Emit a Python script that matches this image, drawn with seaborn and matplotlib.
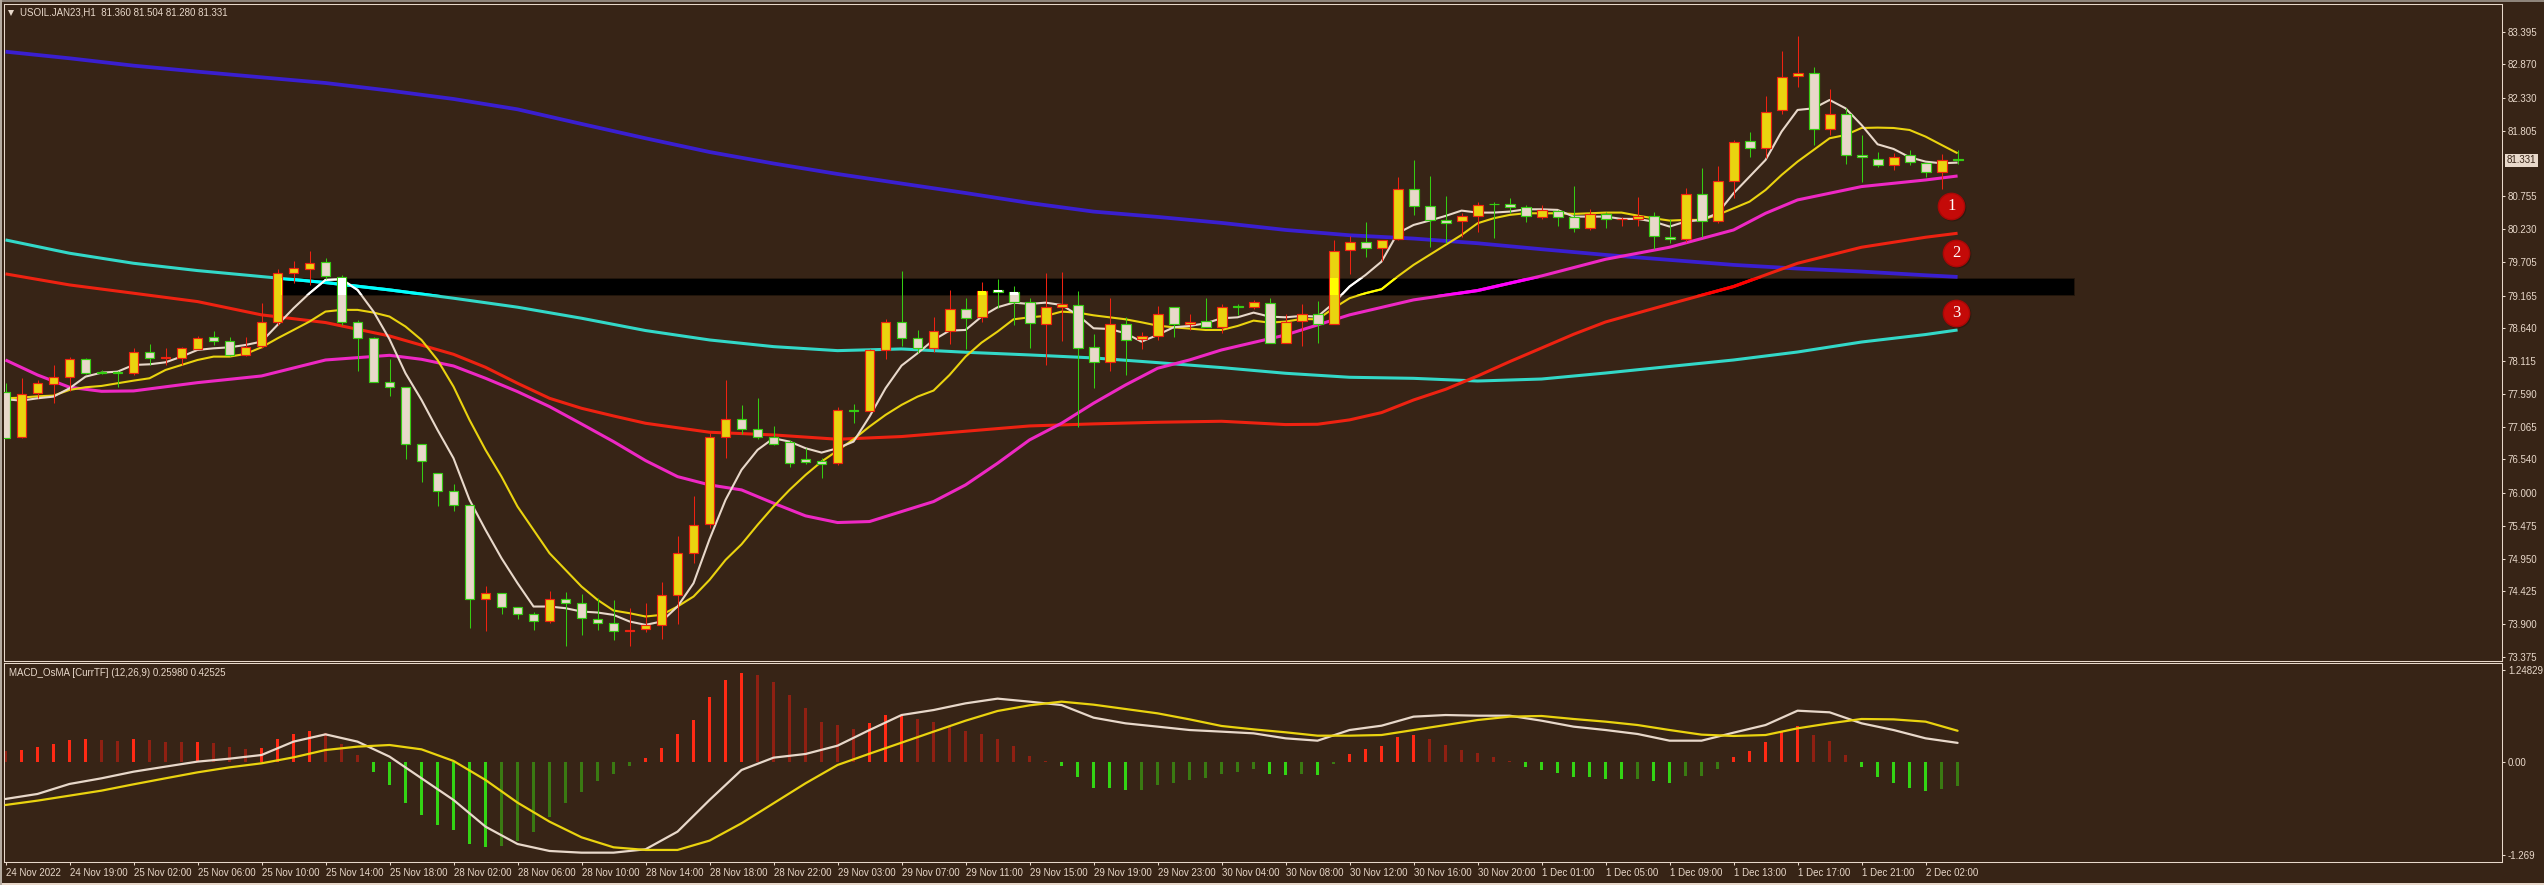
#!/usr/bin/env python3

import matplotlib
matplotlib.use('Agg')
import matplotlib.pyplot as plt
from matplotlib.patches import Rectangle
import numpy as np
import seaborn as sns

# candles
open_ = [77.627, 76.896, 77.600, 77.745, 77.857, 78.145, 77.947, 77.947, 77.921, 78.257,
         78.166, 78.172, 78.316, 78.498, 78.444, 78.220, 78.359, 78.750, 79.535, 79.599,
         79.711, 79.471, 78.750, 78.481, 77.787, 77.697, 76.783, 76.329, 76.030, 75.806,
         74.300, 74.407, 74.172, 74.060, 73.948, 74.311, 74.247, 73.991, 73.926, 73.788,
         73.820, 73.894, 74.375, 75.048, 75.508, 76.896, 77.195, 77.035, 76.907, 76.816,
         76.554, 76.511, 76.479, 77.339, 77.312, 78.290, 78.738, 78.482, 78.322, 78.594,
         78.946, 78.818, 79.251, 79.229, 79.069, 78.706, 78.989, 79.021, 78.338, 78.097,
         78.717, 78.466, 78.514, 78.989, 78.706, 78.765, 78.658, 79.000, 78.989, 79.053,
         78.412, 78.754, 78.877, 78.706, 79.893, 80.021, 79.925, 80.069, 80.870, 80.598,
         80.373, 80.357, 80.437, 80.640, 80.630, 80.592, 80.421, 80.517, 80.421, 80.245,
         80.480, 80.389, 80.389, 80.448, 80.112, 80.069, 80.800, 80.357, 81.009, 81.639,
         81.527, 82.135, 82.680, 82.739, 81.831, 82.082, 81.415, 81.361, 81.254, 81.425,
         81.297, 81.142, 81.360]
close = [76.890, 77.584, 77.761, 77.857, 78.145, 77.931, 77.926, 77.921, 78.257, 78.172,
         78.177, 78.321, 78.492, 78.444, 78.220, 78.348, 78.749, 79.535, 79.604, 79.695,
         79.487, 78.750, 78.481, 77.787, 77.697, 76.783, 76.511, 76.030, 75.806, 74.300,
         74.407, 74.172, 74.060, 73.948, 74.311, 74.247, 73.996, 73.926, 73.788, 73.814,
         73.894, 74.375, 75.048, 75.496, 76.896, 77.195, 77.035, 76.896, 76.794, 76.479,
         76.506, 76.474, 77.339, 77.312, 78.290, 78.738, 78.482, 78.322, 78.594, 78.946,
         78.802, 79.246, 79.229, 79.069, 78.722, 78.989, 79.027, 78.322, 78.097, 78.717,
         78.450, 78.514, 78.877, 78.706, 78.749, 78.658, 78.989, 78.989, 79.059, 78.412,
         78.749, 78.877, 78.706, 79.886, 80.021, 79.925, 80.064, 80.870, 80.598, 80.384,
         80.336, 80.448, 80.624, 80.630, 80.592, 80.448, 80.533, 80.421, 80.245, 80.480,
         80.389, 80.400, 80.448, 80.117, 80.069, 80.800, 80.357, 81.009, 81.633, 81.527,
         82.114, 82.675, 82.739, 81.831, 82.082, 81.415, 81.383, 81.254, 81.393, 81.302,
         81.142, 81.345, 81.331]
high = [77.761, 77.841, 77.814, 78.054, 78.177, 78.166, 77.974, 77.964, 78.327, 78.391,
        78.327, 78.348, 78.519, 78.599, 78.498, 78.498, 79.042, 79.588, 79.722, 79.882,
        79.764, 79.497, 78.777, 78.508, 78.150, 77.697, 76.783, 76.329, 76.148, 75.806,
        74.514, 74.407, 74.172, 74.092, 74.434, 74.423, 74.386, 74.316, 74.290, 74.156,
        74.236, 74.573, 75.315, 75.956, 76.960, 77.814, 77.414, 77.521, 77.077, 76.853,
        76.720, 76.559, 77.377, 77.430, 78.311, 78.792, 79.561, 78.615, 78.829, 79.256,
        79.128, 79.384, 79.432, 79.320, 79.123, 79.523, 79.545, 79.240, 78.551, 79.128,
        78.818, 78.589, 79.000, 78.989, 78.872, 79.128, 79.027, 79.032, 79.096, 79.128,
        78.872, 79.032, 79.080, 80.057, 80.122, 80.347, 80.064, 81.067, 81.340, 81.083,
        80.763, 80.485, 80.667, 80.667, 80.726, 80.619, 80.619, 80.539, 80.923, 80.549,
        80.507, 80.421, 80.747, 80.507, 80.389, 80.886, 81.206, 81.244, 81.660, 81.788,
        82.365, 83.086, 83.326, 82.830, 82.477, 82.167, 81.740, 81.463, 81.457, 81.500,
        81.297, 81.436, 81.504]
low = [76.890, 76.890, 77.520, 77.451, 77.643, 77.910, 77.910, 77.707, 77.894, 78.054,
       78.054, 78.054, 78.305, 78.375, 78.198, 78.198, 78.321, 78.696, 79.364, 79.337,
       79.428, 78.696, 77.964, 77.787, 77.563, 76.548, 76.185, 75.801, 75.715, 73.846,
       73.798, 74.065, 73.985, 73.809, 73.916, 73.558, 73.729, 73.809, 73.649, 73.558,
       73.782, 73.665, 73.905, 74.888, 75.449, 76.570, 76.944, 76.869, 76.773, 76.426,
       76.469, 76.250, 76.453, 77.131, 77.312, 78.151, 78.359, 78.242, 78.268, 78.391,
       78.311, 78.749, 78.962, 78.701, 78.327, 78.055, 78.439, 77.067, 77.692, 77.959,
       77.900, 78.311, 78.455, 78.509, 78.615, 78.658, 78.573, 78.856, 78.952, 78.412,
       78.402, 78.364, 78.412, 78.706, 79.514, 79.791, 79.722, 80.058, 80.459, 79.951,
       80.005, 80.101, 80.192, 80.096, 80.485, 80.352, 80.400, 80.288, 80.192, 80.218,
       80.256, 80.282, 80.282, 79.909, 80.005, 80.021, 80.106, 80.336, 80.726, 81.393,
       81.366, 82.077, 82.515, 81.585, 81.740, 81.281, 80.993, 81.233, 81.180, 81.260,
       81.073, 80.875, 81.280]

# moving averages
ma_fast = [77.504, 77.483, 77.520, 77.547, 77.681, 77.867, 77.931, 77.947, 78.054, 78.065,
           78.097, 78.188, 78.295, 78.321, 78.337, 78.375, 78.428, 78.696, 78.963, 79.204,
           79.417, 79.428, 79.257, 78.910, 78.467, 77.921, 77.494, 77.013, 76.559, 75.892,
           75.411, 74.957, 74.557, 74.183, 74.183, 74.156, 74.103, 74.087, 74.049, 73.943,
           73.889, 73.943, 74.183, 74.557, 75.262, 75.892, 76.373, 76.693, 76.880, 76.826,
           76.720, 76.650, 76.720, 76.826, 77.227, 77.681, 78.044, 78.242, 78.455, 78.605,
           78.615, 78.829, 78.979, 79.053, 79.032, 79.053, 79.016, 78.856, 78.642, 78.631,
           78.562, 78.428, 78.535, 78.658, 78.679, 78.722, 78.802, 78.818, 78.893, 78.829,
           78.818, 78.840, 78.829, 79.044, 79.311, 79.497, 79.711, 80.165, 80.298, 80.368,
           80.443, 80.528, 80.496, 80.496, 80.512, 80.549, 80.549, 80.539, 80.432, 80.432,
           80.432, 80.395, 80.395, 80.352, 80.272, 80.352, 80.379, 80.485, 80.806, 81.073,
           81.340, 81.794, 82.141, 82.167, 82.301, 82.167, 81.900, 81.591, 81.516, 81.383,
           81.313, 81.286, 81.297]
ma_mid = [77.520, 77.531, 77.552, 77.563, 77.654, 77.697, 77.718, 77.761, 77.803, 77.841,
          77.974, 78.054, 78.134, 78.188, 78.188, 78.231, 78.337, 78.481, 78.615, 78.750,
          78.910, 78.937, 78.937, 78.894, 78.830, 78.670, 78.455, 78.134, 77.707, 77.173,
          76.693, 76.265, 75.785, 75.411, 75.037, 74.770, 74.503, 74.290, 74.119, 74.076,
          74.023, 74.049, 74.183, 74.343, 74.610, 74.930, 75.180, 75.491, 75.785, 76.052,
          76.292, 76.506, 76.682, 76.864, 77.067, 77.254, 77.414, 77.547, 77.644, 77.894,
          78.188, 78.412, 78.589, 78.786, 78.818, 78.840, 78.909, 78.893, 78.850, 78.818,
          78.786, 78.738, 78.685, 78.658, 78.637, 78.615, 78.615, 78.679, 78.765, 78.733,
          78.749, 78.792, 78.786, 78.963, 79.124, 79.204, 79.268, 79.471, 79.658, 79.818,
          79.978, 80.138, 80.325, 80.405, 80.459, 80.485, 80.485, 80.485, 80.475, 80.485,
          80.496, 80.496, 80.448, 80.405, 80.368, 80.379, 80.379, 80.459, 80.565, 80.672,
          80.859, 81.099, 81.313, 81.500, 81.687, 81.740, 81.852, 81.858, 81.852, 81.820,
          81.714, 81.580, 81.447]

slow_bars = list(range(0, 121, 4)) + [122]
ma_blue = [83.075, 82.969, 82.851, 82.755, 82.664, 82.573, 82.451, 82.317, 82.151, 81.917,
           81.687, 81.467, 81.283, 81.115, 80.962, 80.810, 80.650, 80.512, 80.427, 80.331,
           80.218, 80.133, 80.080, 80.005, 79.909, 79.818, 79.738, 79.658, 79.599, 79.551,
           79.492, 79.465]
ma_cyan = [80.058, 79.845, 79.684, 79.567, 79.471, 79.375, 79.257, 79.124, 78.980, 78.803,
           78.606, 78.455, 78.348, 78.284, 78.311, 78.258, 78.215, 78.167, 78.092, 78.012,
           77.921, 77.857, 77.840, 77.797, 77.829, 77.925, 78.030, 78.134, 78.262, 78.422,
           78.542, 78.615]
red_bars = [0, 4, 8, 12, 16, 20, 24, 28, 30, 32, 34, 36, 38, 40, 44, 48, 52, 56, 60, 64,
            68, 72, 76, 80, 82, 84, 86, 88, 90, 92, 94, 96, 98, 100, 104, 108, 112, 116, 120, 122]
ma_red = [79.514, 79.337, 79.204, 79.070, 78.857, 78.734, 78.519, 78.225, 78.017, 77.761,
          77.520, 77.360, 77.237, 77.120, 76.976, 76.933, 76.864, 76.907, 76.992, 77.077,
          77.110, 77.136, 77.152, 77.099, 77.104, 77.174, 77.291, 77.493, 77.664, 77.877,
          78.107, 78.326, 78.546, 78.743, 79.031, 79.311, 79.684, 79.941, 80.101, 80.165]
magenta_bars = [0, 2, 4, 6, 8, 12, 16, 20, 24, 26, 28, 30, 32, 34, 36, 38, 40, 42, 44, 46,
                48, 50, 52, 54, 56, 58, 60, 62, 64, 66, 68, 70, 72, 74, 76, 80, 84, 88, 92,
                96, 100, 104, 108, 110, 112, 116, 120, 122]
ma_magenta = [78.134, 77.894, 77.697, 77.632, 77.638, 77.771, 77.878, 78.134, 78.209, 78.145,
              78.038, 77.841, 77.627, 77.387, 77.109, 76.826, 76.522, 76.265, 76.132, 76.052,
              75.839, 75.636, 75.529, 75.545, 75.705, 75.865, 76.132, 76.479, 76.853, 77.120,
              77.441, 77.734, 78.001, 78.135, 78.295, 78.535, 78.857, 79.097, 79.247, 79.481,
              79.748, 79.941, 80.218, 80.485, 80.699, 80.913, 81.019, 81.083]

# MACD pane
osma = [0.150, 0.163, 0.204, 0.245, 0.299, 0.313, 0.299, 0.281, 0.313, 0.299,
        0.272, 0.268, 0.277, 0.259, 0.204, 0.177, 0.190, 0.313, 0.381, 0.422,
        0.395, 0.245, 0.095, -0.136, -0.313, -0.558, -0.721, -0.857, -0.925, -1.116,
        -1.156, -1.143, -1.075, -0.952, -0.748, -0.558, -0.408, -0.258, -0.163, -0.054,
        0.054, 0.190, 0.381, 0.571, 0.884, 1.116, 1.211, 1.184, 1.088, 0.912,
        0.735, 0.544, 0.503, 0.449, 0.531, 0.639, 0.644, 0.585, 0.544, 0.481,
        0.422, 0.381, 0.313, 0.218, 0.082, 0.014, -0.054, -0.204, -0.354, -0.358,
        -0.381, -0.376, -0.313, -0.286, -0.245, -0.218, -0.163, -0.136, -0.095, -0.163,
        -0.177, -0.163, -0.177, -0.027, 0.109, 0.177, 0.218, 0.340, 0.367, 0.313,
        0.231, 0.163, 0.122, 0.068, 0.014, -0.068, -0.109, -0.150, -0.200, -0.209,
        -0.227, -0.236, -0.227, -0.258, -0.286, -0.190, -0.186, -0.095, 0.068, 0.150,
        0.272, 0.422, 0.490, 0.367, 0.286, 0.095, -0.068, -0.204, -0.286, -0.354,
        -0.395, -0.367, -0.327]
macd_bars = list(range(0, 123, 2))
macd_line = [-0.503, -0.435, -0.299, -0.222, -0.132, -0.063, 0.005, 0.045, 0.095, 0.277,
             0.376, 0.277, 0.073, -0.222, -0.517, -0.880, -1.116, -1.211, -1.234, -1.234,
             -1.188, -0.948, -0.517, -0.109, 0.059, 0.109, 0.222, 0.435, 0.639, 0.707,
             0.798, 0.862, 0.821, 0.775, 0.603, 0.526, 0.481, 0.435, 0.413, 0.390,
             0.322, 0.290, 0.435, 0.494, 0.617, 0.639, 0.630, 0.630, 0.562, 0.481,
             0.435, 0.381, 0.290, 0.290, 0.399, 0.503, 0.698, 0.676, 0.526, 0.435,
             0.322, 0.260]
signal_line = [-0.585, -0.526, -0.458, -0.390, -0.304, -0.222, -0.141, -0.073, -0.018, 0.063,
               0.163, 0.209, 0.231, 0.172, 0.014, -0.245, -0.553, -0.812, -1.025, -1.161,
               -1.197, -1.197, -1.070, -0.834, -0.562, -0.290, -0.041, 0.113, 0.263, 0.413,
               0.562, 0.694, 0.771, 0.821, 0.780, 0.721, 0.662, 0.580, 0.490, 0.444,
               0.404, 0.358, 0.358, 0.367, 0.435, 0.503, 0.571, 0.617, 0.626, 0.585,
               0.549, 0.503, 0.435, 0.372, 0.354, 0.367, 0.458, 0.526, 0.585, 0.580,
               0.549, 0.425]

# axis labels
price_ticks = ['83.395', '82.870', '82.330', '81.805', '80.755', '80.230', '79.705', '79.165',
               '78.640', '78.115', '77.590', '77.065', '76.540', '76.000', '75.475', '74.950',
               '74.425', '73.900', '73.375']
macd_ticks = ['1.24829', '0.00', '-1.269']
time_labels = ['24 Nov 2022', '24 Nov 19:00', '25 Nov 02:00', '25 Nov 06:00', '25 Nov 10:00',
               '25 Nov 14:00', '25 Nov 18:00', '28 Nov 02:00', '28 Nov 06:00', '28 Nov 10:00',
               '28 Nov 14:00', '28 Nov 18:00', '28 Nov 22:00', '29 Nov 03:00', '29 Nov 07:00',
               '29 Nov 11:00', '29 Nov 15:00', '29 Nov 19:00', '29 Nov 23:00', '30 Nov 04:00',
               '30 Nov 08:00', '30 Nov 12:00', '30 Nov 16:00', '30 Nov 20:00', '1 Dec 01:00',
               '1 Dec 05:00', '1 Dec 09:00', '1 Dec 13:00', '1 Dec 17:00', '1 Dec 21:00',
               '2 Dec 02:00']

# the drawn-on black bar and the three numbered badges
band_bars = [17.2, 129.3]
band_prices = [79.171, 79.443]
badge_bars = [121.6, 121.9, 121.9]
badge_prices = [80.602, 79.853, 78.892]
badge_labels = ['1', '2', '3']

BG = '#372416'
FG = '#E8D8CA'
GOLD = '#EAD30F'
RED = '#EE2211'
GREEN = '#35CC12'
FONT_PT = 7

sns.set_theme(style='dark', rc={'axes.facecolor': BG, 'figure.facecolor': BG,
                                'axes.edgecolor': FG, 'text.color': FG,
                                'xtick.color': FG, 'ytick.color': FG,
                                'xtick.bottom': True, 'ytick.right': True,
                                'axes.linewidth': 0.75})
plt.rcParams['font.family'] = ['Liberation Sans', 'DejaVu Sans']

W, H = 2544, 885
fig = plt.figure(figsize=(W / 100, H / 100), dpi=100)
left, right = 4, 2501.6
ax = fig.add_axes([left / W, 1 - 661 / H, (right - left) / W, (661 - 4) / H])
ax2 = fig.add_axes([left / W, 1 - 862 / H, (right - left) / W, (862 - 663) / H])

bars = np.arange(len(close))
open_ = np.array(open_)
close = np.array(close)
up = close >= open_

band = Rectangle((band_bars[0], band_prices[0]), band_bars[1] - band_bars[0],
                 band_prices[1] - band_prices[0], fc='black', ec='#22160c', lw=0.7, zorder=1)
ax.add_patch(band)


def ma_line(x, y, color, bright, lw):
    sns.lineplot(x=x, y=y, ax=ax, color=color, linewidth=lw, zorder=3, estimator=None,
                 sort=False, solid_capstyle='butt')
    if bright is not None:
        # colours go pure where they cross the black bar
        sns.lineplot(x=x, y=y, ax=ax, color=bright, linewidth=lw, zorder=3.5, estimator=None,
                     sort=False, solid_capstyle='butt')
        ax.lines[-1].set_clip_path(band)


ma_line(slow_bars, ma_blue, '#3A1FD0', None, 2.7)
ma_line(slow_bars, ma_cyan, '#33D8C8', '#00FFFF', 2.2)
ma_line(red_bars, ma_red, RED, '#FF0000', 2.2)
ma_line(magenta_bars, ma_magenta, '#EE28C4', '#FF00FF', 2.2)
ma_line(bars, ma_mid, GOLD, '#FFFF00', 1.5)
ma_line(bars, ma_fast, FG, '#FFFFFF', 1.5)

# candles sit on top of the averages
ax.vlines(bars[up], np.array(low)[up], np.array(high)[up], color=RED, lw=0.75, zorder=4)
ax.vlines(bars[~up], np.array(low)[~up], np.array(high)[~up], color=GREEN, lw=0.75, zorder=4)
body_low = np.minimum(open_, close)
body_height = np.abs(close - open_)
ax.bar(bars[up], body_height[up], bottom=body_low[up], width=0.62, color=GOLD,
       edgecolor=RED, linewidth=0.85, zorder=5)
ax.bar(bars[~up], body_height[~up], bottom=body_low[~up], width=0.62, color=FG,
       edgecolor=GREEN, linewidth=0.85, zorder=5)
for cols, mask in (('#FFFF00', up), ('#FFFFFF', ~up)):
    inner = ax.bar(bars[mask], body_height[mask], bottom=body_low[mask], width=0.5, color=cols,
                   linewidth=0, zorder=5.5)
    for p in inner:
        p.set_clip_path(band)

# badges
ax.scatter(np.array(badge_bars) + 0.06, np.array(badge_prices) - 0.02, s=400, color='#1f120a',
           alpha=0.45, linewidths=0, zorder=6)
ax.scatter(badge_bars, badge_prices, s=360, color='#C40A08', edgecolors='#A80806',
           linewidths=1.0, zorder=7)
for bx, by, txt in zip(badge_bars, badge_prices, badge_labels):
    ax.text(bx, by, txt, color='white', ha='center', va='center', fontsize=12,
            family='Liberation Serif', zorder=8)

ax.set_xlim(-0.094, 156.0)
ax.set_ylim(73.310, 83.839)
ax.set_xticks([])
ax.yaxis.tick_right()
ax.set_yticks([float(t) for t in price_ticks], price_ticks)
ax.tick_params(axis='y', length=2.5, width=0.75, pad=2, labelsize=FONT_PT, colors=FG)
ax.set_xlabel('')
ax.set_ylabel('')
ax.grid(False)

ax.annotate('81.331', xy=(1, 81.331), xycoords=('axes fraction', 'data'), xytext=(3.9, 0),
            textcoords='offset points', va='center', ha='left', fontsize=FONT_PT, color=BG,
            bbox=dict(boxstyle='square,pad=0.2', fc=FG, ec='none'))
ax.plot([0.003], [0.9867], marker='v', ms=4.5, color=FG, mew=0, transform=ax.transAxes,
        clip_on=False)
ax.text(0.0064, 0.9867, 'USOIL.JAN23,H1  81.360 81.504 81.280 81.331', transform=ax.transAxes,
        fontsize=FONT_PT, va='center', ha='left', color=FG)

# MACD pane
osma = np.array(osma)
colors = []
for i, v in enumerate(osma):
    prev = osma[i - 1] if i else v
    if v > 0:
        colors.append('#FF2A14' if v > prev else '#8F2012')
    else:
        colors.append('#33D414' if v < prev else '#3A7A12')
ax2.bar(bars, osma, width=0.17, color=colors, linewidth=0, zorder=2)
sns.lineplot(x=macd_bars, y=macd_line, ax=ax2, color=FG, linewidth=1.6, zorder=3, estimator=None)
sns.lineplot(x=macd_bars, y=signal_line, ax=ax2, color=GOLD, linewidth=1.6, zorder=3, estimator=None)
ax2.set_xlim(-0.094, 156.0)
ax2.set_ylim(-1.361, 1.347)
ax2.yaxis.tick_right()
ax2.set_yticks([float(t) for t in macd_ticks], macd_ticks)
ax2.set_xticks(bars[::4][:len(time_labels)], time_labels, ha='left')
ax2.tick_params(axis='y', length=2.5, width=0.75, pad=2, labelsize=FONT_PT, colors=FG)
ax2.tick_params(axis='x', length=2.5, width=0.75, pad=2, labelsize=FONT_PT, colors=FG)
ax2.set_xlabel('')
ax2.set_ylabel('')
ax2.grid(False)
ax2.text(0.002, 0.951, 'MACD_OsMA [CurrTF] (12,26,9) 0.25980 0.42525', transform=ax2.transAxes,
         fontsize=FONT_PT, va='center', ha='left', color=FG)

# window edges of the screenshot
fig.add_artist(Rectangle((0, 1 - 2 / H), 1, 2 / H, transform=fig.transFigure, fc='#8f857b', ec='none'))
fig.add_artist(Rectangle((0, 0), 1, 2 / H, transform=fig.transFigure, fc=FG, ec='none'))
fig.add_artist(Rectangle((0, 0), 1.5 / W, 1, transform=fig.transFigure, fc='#b5aba0', ec='none'))

fig.savefig('out.png', dpi=100, facecolor=fig.get_facecolor())
